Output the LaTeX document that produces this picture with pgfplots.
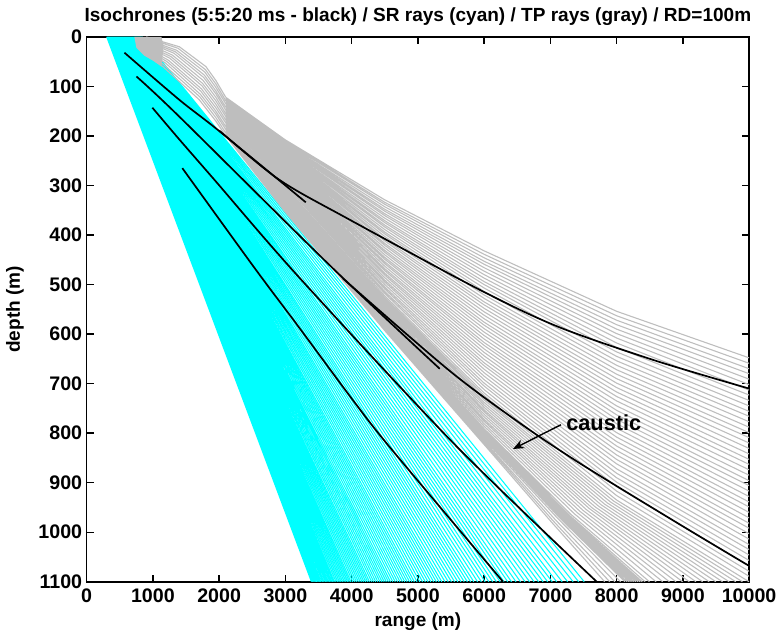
\documentclass[border=0pt]{standalone}
\usepackage{fontspec}
\setmainfont{Liberation Sans}
\usepackage{pgfplots}
\pgfplotsset{compat=1.18}
\usetikzlibrary{arrows.meta}
\definecolor{raycyan}{RGB}{0,255,255}
\definecolor{raygray}{RGB}{190,190,190}
\newcommand{\lbl}{\bfseries\fontsize{19.1}{22}\selectfont}
\newcommand{\tlbl}{\bfseries\fontsize{19.7}{23}\selectfont}
\begin{document}
\begin{tikzpicture}
\begin{axis}[
  width=665pt, height=547pt, scale only axis,
  xmin=0, xmax=10000, ymin=0, ymax=1100, y dir=reverse,
  xtick={0,1000,...,10000}, ytick={0,100,...,1100},
  scaled x ticks=false, scaled y ticks=false,
  tick align=inside, major tick length=7pt,
  tick style={black, line width=1.4pt},
  axis line style={line width=1.6pt},
  unbounded coords=jump,
  tick label style={font=\tlbl, /pgf/number format/assume math mode=true, /pgf/number format/1000 sep={}},
  xticklabel style={yshift=-4pt},
  yticklabel style={xshift=-1pt},
  title={Isochrones (5:5:20 ms - black) / SR rays (cyan) / TP rays (gray) / RD=100m},
  title style={font=\lbl, at={(axis description cs:0.5,1.0165)}, anchor=base},
  xlabel={range (m)},
  xlabel style={font=\lbl, at={(axis description cs:0.5,-0.0823)}, anchor=base},
  ylabel={depth (m)},
  ylabel style={font=\lbl, at={(axis description cs:-0.1083,0.5)}, anchor=center},
]
% SR rays (cyan)
\addplot[raycyan, line width=1.05pt] table {
x y
302 0
3393 1100
nan nan
304 0
3414 1100
nan nan
307 0
3434 1100
nan nan
310 0
3454 1100
nan nan
312 0
3474 1100
nan nan
315 0
3495 1100
nan nan
318 0
3515 1100
nan nan
320 0
3537 1100
nan nan
323 0
3560 1100
nan nan
326 0
3582 1100
nan nan
329 0
3605 1100
nan nan
332 0
3627 1100
nan nan
335 0
3649 1100
nan nan
338 0
3672 1100
nan nan
341 0
3694 1100
nan nan
344 0
3717 1100
nan nan
347 0
3739 1100
nan nan
350 0
3764 1100
nan nan
353 0
3789 1100
nan nan
356 0
3814 1100
nan nan
360 0
3839 1100
nan nan
363 0
3864 1100
nan nan
366 0
3889 1100
nan nan
369 0
3914 1100
nan nan
373 0
3939 1100
nan nan
376 0
3964 1100
nan nan
379 0
3989 1100
nan nan
383 0
4017 1100
nan nan
386 0
4045 1100
nan nan
390 0
4073 1100
nan nan
394 0
4101 1100
nan nan
397 0
4129 1100
nan nan
401 0
4157 1100
nan nan
405 0
4185 1100
nan nan
408 0
4213 1100
nan nan
412 0
4241 1100
nan nan
416 0
4269 1100
nan nan
420 0
4301 1100
nan nan
424 0
4332 1100
nan nan
428 0
4364 1100
nan nan
432 0
4396 1100
nan nan
436 0
4428 1100
nan nan
440 0
4459 1100
nan nan
444 0
4491 1100
nan nan
449 0
4523 1100
nan nan
453 0
4554 1100
nan nan
457 0
4586 1100
nan nan
461 0
4622 1100
nan nan
466 0
4658 1100
nan nan
471 0
4694 1100
nan nan
475 0
4730 1100
nan nan
480 0
4766 1100
nan nan
485 0
4802 1100
nan nan
490 0
4838 1100
nan nan
494 0
4874 1100
nan nan
499 0
4910 1100
nan nan
504 0
4946 1100
nan nan
509 0
4988 1100
nan nan
514 0
5029 1100
nan nan
520 0
5071 1100
nan nan
525 0
5112 1100
nan nan
531 0
5154 1100
nan nan
536 0
5195 1100
nan nan
541 0
5237 1100
nan nan
547 0
5278 1100
nan nan
552 0
5320 1100
nan nan
558 0
5361 1100
nan nan
564 0
5409 1100
nan nan
570 0
5458 1100
nan nan
576 0
5506 1100
nan nan
583 0
5554 1100
nan nan
589 0
5603 1100
nan nan
595 0
5651 1100
nan nan
601 0
5699 1100
nan nan
608 0
5747 1100
nan nan
614 0
5796 1100
nan nan
620 0
5844 1100
nan nan
628 0
5901 1100
nan nan
635 0
5958 1100
nan nan
643 0
6015 1100
nan nan
650 0
6072 1100
nan nan
657 0
6129 1100
nan nan
665 0
6185 1100
nan nan
672 0
6242 1100
nan nan
679 0
6299 1100
nan nan
687 0
6356 1100
nan nan
694 0
6413 1100
nan nan
703 0
6481 1100
nan nan
712 0
6549 1100
nan nan
721 0
6618 1100
nan nan
730 0
6686 1100
nan nan
739 0
6754 1100
nan nan
747 0
6822 1100
nan nan
756 0
6890 1100
nan nan
765 0
6959 1100
nan nan
774 0
7027 1100
nan nan
783 0
7095 1100
nan nan
794 0
7178 1100
nan nan
805 0
7261 1100
nan nan
815 0
7344 1100
nan nan
826 0
7427 1100
nan nan
837 0
7511 1100
};
% TP rays (gray): source blob
\addplot[fill=raygray, draw=none] coordinates {(720,0) (1130,0) (1160,20) (1130,60) (1000,48) (870,38) (750,22)} -- cycle;
% TP rays: near-source part
\addplot[raygray, line width=1.1pt] table {
x y
900 0
1400 20
1800 60
1950 88
2100 122
nan nan
892 2
1379 23
1792 66
1950 95
2100 129
nan nan
883 4
1358 27
1783 71
1950 102
2100 135
nan nan
875 6
1338 30
1775 77
1950 109
2100 142
nan nan
867 8
1317 33
1767 82
1950 115
2100 148
nan nan
858 10
1296 37
1758 88
1950 122
2100 155
nan nan
850 13
1275 40
1750 94
1950 129
2100 161
nan nan
842 15
1254 43
1742 99
1950 136
2100 168
nan nan
833 17
1233 47
1733 105
1950 143
2100 174
nan nan
825 19
1213 50
1725 110
1950 150
2100 181
nan nan
817 21
1192 53
1717 116
1950 156
2100 187
nan nan
808 23
1171 57
1708 121
1950 163
2100 194
nan nan
800 25
1150 60
1700 127
1950 170
2100 200
};
% TP rays reaching the right edge
\addplot[raygray, line width=1.1pt] table {
x y
2100 122
3000 208
4500 329
6000 432
8000 554
10000 648
nan nan
2100 123
3000 210
4500 334
6000 439
8000 563
10000 659
nan nan
2100 124
3000 212
4500 338
6000 446
8000 572
10000 670
nan nan
2100 126
3000 215
4500 343
6000 453
8000 581
10000 680
nan nan
2100 127
3000 217
4500 348
6000 459
8000 590
10000 691
nan nan
2100 128
3000 219
4500 352
6000 466
8000 599
10000 702
nan nan
2100 129
3000 221
4500 357
6000 473
8000 608
10000 713
nan nan
2100 130
3000 223
4500 361
6000 480
8000 618
10000 723
nan nan
2100 131
3000 226
4500 366
6000 487
8000 627
10000 734
nan nan
2100 133
3000 228
4500 371
6000 494
8000 636
10000 745
nan nan
2100 134
3000 230
4500 375
6000 500
8000 645
10000 756
nan nan
2100 135
3000 232
4500 380
6000 507
8000 654
10000 766
nan nan
2100 136
3000 234
4500 384
6000 514
8000 663
10000 777
nan nan
2100 137
3000 237
4500 389
6000 521
8000 672
10000 788
nan nan
2100 138
3000 239
4500 394
6000 528
8000 681
10000 799
nan nan
2100 140
3000 241
4500 398
6000 535
8000 690
10000 809
nan nan
2100 141
3000 243
4500 403
6000 541
8000 699
10000 820
nan nan
2100 142
3000 245
4500 408
6000 548
8000 708
10000 831
nan nan
2100 143
3000 247
4500 412
6000 555
8000 717
10000 842
nan nan
2100 144
3000 250
4500 417
6000 562
8000 726
10000 853
nan nan
2100 145
3000 252
4500 421
6000 569
8000 735
10000 863
nan nan
2100 147
3000 254
4500 426
6000 576
8000 745
10000 874
nan nan
2100 148
3000 256
4500 431
6000 582
8000 754
10000 885
nan nan
2100 149
3000 258
4500 435
6000 589
8000 763
10000 896
nan nan
2100 150
3000 261
4500 440
6000 596
8000 772
10000 906
nan nan
2100 151
3000 263
4500 445
6000 603
8000 781
10000 917
nan nan
2100 152
3000 265
4500 449
6000 610
8000 790
10000 928
nan nan
2100 154
3000 267
4500 454
6000 617
8000 799
10000 939
nan nan
2100 155
3000 269
4500 458
6000 623
8000 808
10000 949
nan nan
2100 156
3000 272
4500 463
6000 630
8000 817
10000 960
nan nan
2100 157
3000 274
4500 468
6000 637
8000 826
10000 971
nan nan
2100 158
3000 276
4500 472
6000 644
8000 835
10000 982
nan nan
2100 159
3000 278
4500 477
6000 651
8000 844
10000 992
nan nan
2100 161
3000 280
4500 481
6000 658
8000 853
10000 1003
nan nan
2100 162
3000 283
4500 486
6000 664
8000 862
10000 1014
nan nan
2100 163
3000 285
4500 491
6000 671
8000 872
10000 1025
nan nan
2100 164
3000 287
4500 495
6000 678
8000 881
10000 1035
nan nan
2100 165
3000 289
4500 500
6000 685
8000 890
10000 1046
nan nan
2100 166
3000 291
4500 505
6000 692
8000 899
10000 1057
nan nan
2100 168
3000 293
4500 509
6000 699
8000 908
10000 1068
nan nan
2100 169
3000 296
4500 514
6000 705
8000 917
10000 1079
nan nan
2100 170
3000 298
4500 518
6000 712
8000 926
10000 1089
nan nan
2100 171
3000 300
4500 523
6000 719
8000 935
10000 1100
};
% TP rays reaching the bottom (with the caustic bundle)
\addplot[raygray, line width=1.1pt] table {
x y
2100 172
3000 303
4500 526
6000 724
7954 937
9900 1100
nan nan
2100 174
3000 305
4500 529
6000 729
7908 939
9799 1100
nan nan
2100 175
3000 308
4500 533
6000 733
7862 941
9699 1100
nan nan
2100 176
3000 310
4500 536
6000 738
7816 943
9599 1100
nan nan
2100 178
3000 312
4500 539
6000 743
7770 945
9499 1100
nan nan
2100 179
3000 315
4500 542
6000 748
7724 947
9398 1100
nan nan
2100 180
3000 317
4500 546
6000 753
7678 949
9298 1100
nan nan
2100 182
3000 320
4500 549
6000 757
7632 951
9198 1100
nan nan
2100 183
3000 322
4500 552
6000 762
7586 952
9097 1100
nan nan
2100 184
3000 325
4500 555
6000 767
7540 954
8997 1100
nan nan
2100 186
3000 327
4500 558
6000 772
7494 956
8897 1100
nan nan
2100 187
3000 330
4500 562
6000 776
7448 958
8797 1100
nan nan
2100 188
3000 332
4500 565
6000 781
7402 960
8696 1100
nan nan
2100 190
3000 335
4500 568
6000 786
7356 962
8596 1100
nan nan
2100 191
3000 337
4500 571
6000 791
7310 964
8496 1100
nan nan
2100 192
3000 339
4500 573
6000 794
7280 965
8430 1100
nan nan
2100 192
3000 340
4500 575
6000 796
7260 966
8387 1100
nan nan
2100 193
3000 341
4500 576
6000 798
7245 967
8354 1100
nan nan
2100 193
3000 342
4500 577
6000 799
7230 967
8321 1100
nan nan
2100 194
3000 342
4500 578
6000 801
7215 968
8289 1100
nan nan
2100 194
3000 343
4500 579
6000 802
7200 969
8256 1100
nan nan
2100 195
3000 344
4500 580
6000 804
7185 969
8223 1100
nan nan
2100 195
3000 345
4500 581
6000 805
7170 970
8191 1100
nan nan
2100 196
3000 346
4500 582
6000 807
7155 971
8158 1100
nan nan
2100 196
3000 346
4500 583
6000 808
7140 971
8125 1100
nan nan
2100 197
3000 348
4500 585
6000 812
7110 972
8060 1100
nan nan
2100 198
3000 350
4500 588
6000 816
7070 974
7973 1100
nan nan
2100 199
3000 352
4500 591
6000 819
7035 976
7896 1100
nan nan
2100 200
3000 354
4500 593
6000 823
7000 977
7820 1100
};
% Isochrones (black)
\addplot[black, line width=1.7pt, smooth, tension=0.5] coordinates {(571,32) (1398,127) (2000,190) (3308,334)};
\addplot[black, line width=1.7pt, smooth, tension=0.5] coordinates {(2000,189) (2902,288) (3955,368) (5910,509) (7113,585) (8571,653) (10000,710)};
\addplot[black, line width=1.7pt, smooth, tension=0.5] coordinates {(752,80) (1398,161) (3699,465) (5330,670)};
\addplot[black, line width=1.7pt, smooth, tension=0.5] coordinates {(3870,488) (5459,672) (6511,777) (7459,862) (8962,985) (10000,1068)};
\addplot[black, line width=1.7pt, smooth, tension=0.5] coordinates {(992,143) (1398,207) (1925,288) (3203,485) (5564,824) (7700,1100)};
\addplot[black, line width=1.7pt, smooth, tension=0.5] coordinates {(1444,265) (2526,465) (3203,586) (4000,730) (4586,830) (6286,1100)};
\node[font=\bfseries\fontsize{21.8}{25}\selectfont, anchor=base west, inner sep=0pt] at (axis cs:7238,794) {caustic};
\draw[-{Stealth[length=11pt,width=9pt]}, line width=1.4pt] (axis cs:7160,783) -- (axis cs:6436,832);
\end{axis}
\pgfresetboundingbox
\path[use as bounding box] (-87pt,-51pt) rectangle (693pt,584pt);
\end{tikzpicture}
\end{document}
